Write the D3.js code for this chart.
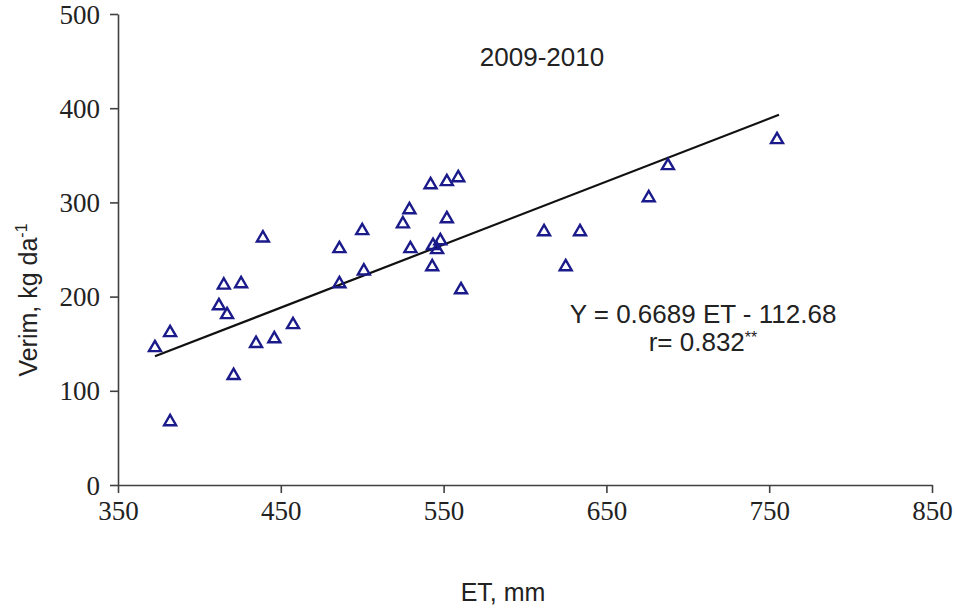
<!DOCTYPE html>
<html>
<head>
<meta charset="utf-8">
<script src="https://cdn.jsdelivr.net/npm/d3@7"></script>
<style>
  html, body { margin: 0; padding: 0; background: #fff; }
  svg { display: block; }
</style>
</head>
<body>
<svg id="chart" width="955" height="609"></svg>
<script>
// ---- Data ----
const etValues = [372.7, 382, 382, 412, 415, 417, 425.6, 421, 434.8, 439, 446, 457.5,
  486, 486, 500, 501, 525, 529, 529.6, 542, 552, 559, 552, 543, 543.5, 546, 548, 560.7,
  611.7, 625, 633.8, 676, 687.8, 754.8];
const yieldValues = [147.6, 163.5, 69, 192, 214, 182.6, 215.5, 118, 152, 264, 157, 172,
  252.7, 215.5, 271.8, 229, 279, 294, 252.7, 320.6, 323.8, 328, 284.5, 233.5, 256, 251.6, 261, 209,
  270.7, 233.5, 270.7, 306.8, 340.8, 368.4];
const xTicks = [350, 450, 550, 650, 750, 850];
const yTicks = [0, 100, 200, 300, 400, 500];
const regression = [0.6689, -112.68]; // slope, intercept
const lineRange = [372.7, 756];
const titleText = "2009-2010";
const eqText = "Y = 0.6689 ET - 112.68";
const rText = ["r= 0.832", "**"];

// ---- Layout ----
const svg = d3.select("#chart");
const x = d3.scaleLinear().domain([350, 850]).range([118, 932]);
const y = d3.scaleLinear().domain([0, 500]).range([485, 14]);
const axisColor = "#404040";
const serif = "'Liberation Serif', 'Times New Roman', serif";
const sans = "'Liberation Sans', Arial, sans-serif";

// axes
const gx = svg.append("g").attr("transform", `translate(0,${y(0)})`)
  .call(d3.axisBottom(x).tickValues(xTicks).tickSize(8).tickSizeOuter(0).tickPadding(6));
const gy = svg.append("g").attr("transform", `translate(${x(350)},0)`)
  .call(d3.axisLeft(y).tickValues(yTicks).tickSize(8).tickSizeOuter(0).tickPadding(10));
[gx, gy].forEach(g => {
  g.select(".domain").attr("stroke", axisColor).attr("stroke-width", 1.6);
  g.selectAll(".tick line").attr("stroke", axisColor).attr("stroke-width", 1.6);
  g.selectAll(".tick text").attr("fill", "#222").style("font-family", serif).style("font-size", "27px");
});
gy.selectAll(".tick text").attr("dy", "0.34em");
gx.selectAll(".tick text").attr("dy", "0.78em");

// regression line
svg.append("line")
  .attr("x1", x(lineRange[0])).attr("y1", y(regression[0] * lineRange[0] + regression[1]))
  .attr("x2", x(lineRange[1])).attr("y2", y(regression[0] * lineRange[1] + regression[1]))
  .attr("stroke", "#111").attr("stroke-width", 2.2);

// points (triangle centred on its bounding box)
const centredTriangle = {
  draw(ctx, size) {
    const s = Math.sqrt(size * 4 / Math.sqrt(3)); // side
    const h = s * Math.sqrt(3) / 2;
    ctx.moveTo(0, -h / 2);
    ctx.lineTo(s / 2, h / 2);
    ctx.lineTo(-s / 2, h / 2);
    ctx.closePath();
  }
};
const pts = etValues.map((v, i) => ({ et: v, yv: yieldValues[i] }));
const tri = d3.symbol().type(centredTriangle).size(62);
svg.append("g").selectAll("path").data(pts).join("path")
  .attr("d", tri)
  .attr("transform", d => `translate(${x(d.et)},${y(d.yv)})`)
  .attr("fill", "none").attr("stroke", "#1a1a8a").attr("stroke-width", 2.4)
  .attr("stroke-linejoin", "miter");

// texts
svg.append("text").attr("x", 542).attr("y", 66).attr("text-anchor", "middle")
  .style("font-family", sans).style("font-size", "26px").attr("fill", "#222").text(titleText);
svg.append("text").attr("x", 703).attr("y", 323).attr("text-anchor", "middle")
  .style("font-family", sans).style("font-size", "26px").attr("fill", "#222").text(eqText);
const rt = svg.append("text").attr("x", 703).attr("y", 351).attr("text-anchor", "middle")
  .style("font-family", sans).style("font-size", "26px").attr("fill", "#222");
rt.append("tspan").text(rText[0]);
rt.append("tspan").attr("dy", -8).style("font-size", "16px").text(rText[1]);

// axis titles
svg.append("text").attr("x", 503).attr("y", 601).attr("text-anchor", "middle")
  .style("font-family", sans).style("font-size", "25px").attr("fill", "#222").text("ET, mm");
const yl = svg.append("text").attr("transform", "translate(37,300) rotate(-90)")
  .attr("text-anchor", "middle")
  .style("font-family", sans).style("font-size", "25px").attr("fill", "#222");
yl.append("tspan").text("Verim, kg da");
yl.append("tspan").attr("dy", -10).style("font-size", "16px").text("-1");
</script>
</body>
</html>
